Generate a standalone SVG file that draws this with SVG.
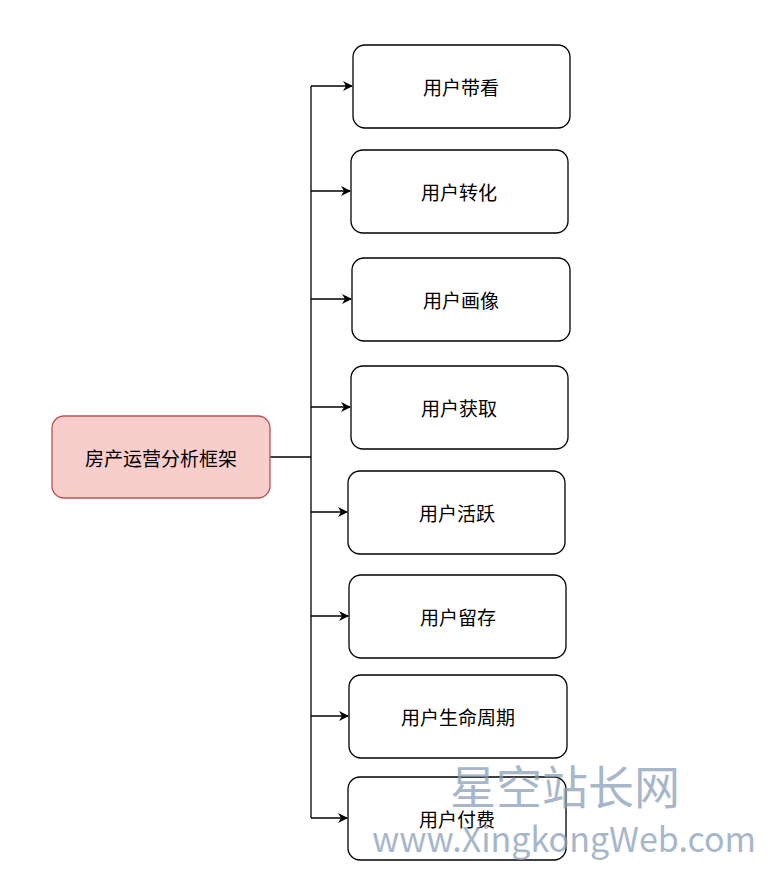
<svg xmlns="http://www.w3.org/2000/svg" width="778" height="878" viewBox="0 0 778 878">
<style>
.n{fill:#fff;stroke:#000;stroke-width:1.3}
.t{font-family:"Noto Sans CJK SC","Liberation Sans",sans-serif;font-size:19px;text-anchor:middle;dominant-baseline:central;fill:#000}
.c{fill:none;stroke:#000;stroke-width:1.3}
</style>
<defs><marker id="a" markerWidth="10" markerHeight="10" refX="9" refY="5" orient="auto" markerUnits="userSpaceOnUse"><path d="M0,0 L10,5 L0,10 L3,5 Z" fill="#000"/></marker></defs>
<rect width="778" height="878" fill="#fff"/>
<g id="connectors">
<path class="c" d="M270,457 H311 M311,86 V818"/>
<path class="c" marker-end="url(#a)" d="M311,86 H352"/>
<path class="c" marker-end="url(#a)" d="M311,191 H350"/>
<path class="c" marker-end="url(#a)" d="M311,299 H351"/>
<path class="c" marker-end="url(#a)" d="M311,407 H350"/>
<path class="c" marker-end="url(#a)" d="M311,512 H347"/>
<path class="c" marker-end="url(#a)" d="M311,616 H348"/>
<path class="c" marker-end="url(#a)" d="M311,716 H348"/>
<path class="c" marker-end="url(#a)" d="M311,818 H347"/>
</g>
<g id="root"><rect x="52" y="416" width="218" height="82" rx="12" fill="#f8cecc" stroke="#b85450" stroke-width="1.3"/><text class="t" x="161" y="457">房产运营分析框架</text></g>
<g id="n1"><rect class="n" x="353" y="45" width="217" height="83" rx="12"/><text class="t" x="461" y="86">用户带看</text></g>
<g id="n2"><rect class="n" x="351" y="150" width="217" height="83" rx="12"/><text class="t" x="459" y="191">用户转化</text></g>
<g id="n3"><rect class="n" x="352" y="258" width="218" height="83" rx="12"/><text class="t" x="461" y="299">用户画像</text></g>
<g id="n4"><rect class="n" x="351" y="366" width="217" height="83" rx="12"/><text class="t" x="459" y="407">用户获取</text></g>
<g id="n5"><rect class="n" x="348" y="471" width="217" height="83" rx="12"/><text class="t" x="457" y="512">用户活跃</text></g>
<g id="n6"><rect class="n" x="349" y="575" width="217" height="83" rx="12"/><text class="t" x="458" y="616">用户留存</text></g>
<g id="n7"><rect class="n" x="349" y="675" width="218" height="83" rx="12"/><text class="t" x="458" y="716">用户生命周期</text></g>
<g id="n8"><rect class="n" x="348" y="777" width="218" height="83" rx="12"/><text class="t" x="457" y="818">用户付费</text></g>
<g id="watermark" fill="#8aa0b8" opacity="0.75" font-family="Noto Sans CJK SC,Liberation Sans,sans-serif">
<text x="450" y="804" font-size="46">星空站长网</text>
<text x="372" y="852" font-size="34">www.XingkongWeb.com</text>
</g>
</svg>
